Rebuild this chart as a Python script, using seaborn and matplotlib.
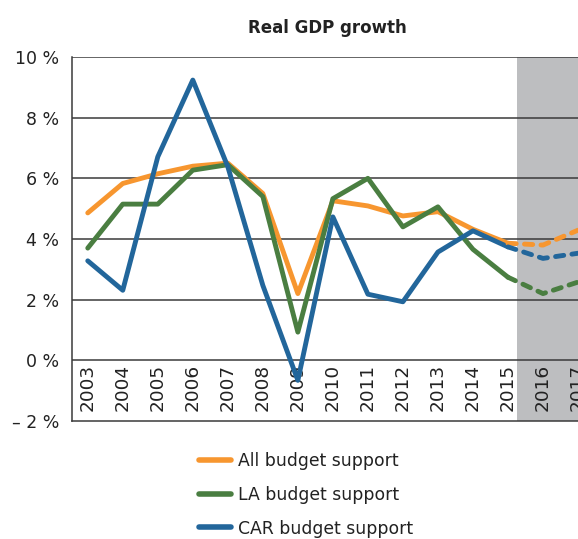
import matplotlib
matplotlib.use("Agg")
import matplotlib.pyplot as plt
import seaborn as sns
import pandas as pd
from matplotlib.lines import Line2D

years = list(range(2003, 2018))
all_budget = [4.86, 5.83, 6.15, 6.4, 6.5, 5.5, 2.2, 5.26, 5.09, 4.76, 4.9, 4.32, 3.86, 3.8, 4.29]
la_budget = [3.7, 5.15, 5.15, 6.27, 6.45, 5.4, 0.93, 5.33, 6.0, 4.4, 5.06, 3.66, 2.74, 2.2, 2.58]
car_budget = [3.28, 2.31, 6.71, 9.24, 6.38, 2.47, -0.66, 4.73, 2.18, 1.93, 3.57, 4.27, 3.74, 3.36, 3.53]
series_names = ["All budget support", "LA budget support", "CAR budget support"]
colors = ["#F7962F", "#4A7E41", "#22669B"]
ytick_vals = [-2, 0, 2, 4, 6, 8, 10]
ytick_labels = ["\u2013 2 %", "0 %", "2 %", "4 %", "6 %", "8 %", "10 %"]
last_actual = 2015

rows = []
for name, vals in zip(series_names, [all_budget, la_budget, car_budget]):
    for y, v in zip(years, vals):
        rows.append({"year": y, "value": v, "series": name})
df = pd.DataFrame(rows)
actual = df[df.year <= last_actual]
forecast = df[df.year >= last_actual]

sns.set_style("white")
plt.rcParams["font.family"] = ["DejaVu Sans"]

fig = plt.figure(figsize=(5.78, 5.39), dpi=100)
ax = fig.add_axes([72/578, 1-421/539, 1-72/578, (421-57)/539])

pal = dict(zip(series_names, colors))
ax.axvspan(2015.25, 2018, color="#BDBEC0", zorder=0, lw=0)
for v in ytick_vals[1:]:
    ax.axhline(v, color="#3a3a3a", lw=1.1, zorder=1)

sns.lineplot(data=actual, x="year", y="value", hue="series", palette=pal,
             lw=3.5, ax=ax, legend=False, zorder=3)
sns.lineplot(data=forecast, x="year", y="value", hue="series", palette=pal,
             lw=3.5, ax=ax, legend=False, zorder=3)
nact = len(series_names)
for i, line in enumerate(ax.lines):
    if i >= len(ytick_vals) - 1 + nact:
        line.set_dashes((1.7, 1.7))
        line.set_dash_capstyle("round")
    line.set_solid_capstyle("round")

for y in years:
    ax.text(y, -0.12, str(y), rotation=90, ha="center", va="top",
            fontsize=13.3, color="#222222", zorder=2)

ax.set_xlim(2002.55, 2017.0)
ax.set_ylim(-2, 10)
ax.set_xticks([])
ax.set_yticks(ytick_vals)
ax.set_yticklabels(ytick_labels, fontsize=12.5, color="#222222")
ax.tick_params(axis="y", length=0, pad=9)
ax.set_xlabel("")
ax.set_ylabel("")
for s in ["top", "right"]:
    ax.spines[s].set_visible(False)
for s in ["left", "bottom"]:
    ax.spines[s].set_color("#3a3a3a")
    ax.spines[s].set_linewidth(1.1)

fig.text(327/578, 1-28/539, "Real GDP growth", ha="center", va="center",
         fontsize=12, fontweight="bold", color="#222222")

handles = [Line2D([0], [0], color=c, lw=4, solid_capstyle="round") for c in colors]
fig.legend(handles, series_names, loc="center left",
           bbox_to_anchor=(183/578, 1-495/539), frameon=False,
           fontsize=12.4, handlelength=1.9, labelspacing=0.9, handletextpad=0.4,
           labelcolor="#222222")

fig.savefig("out.png", dpi=100)
